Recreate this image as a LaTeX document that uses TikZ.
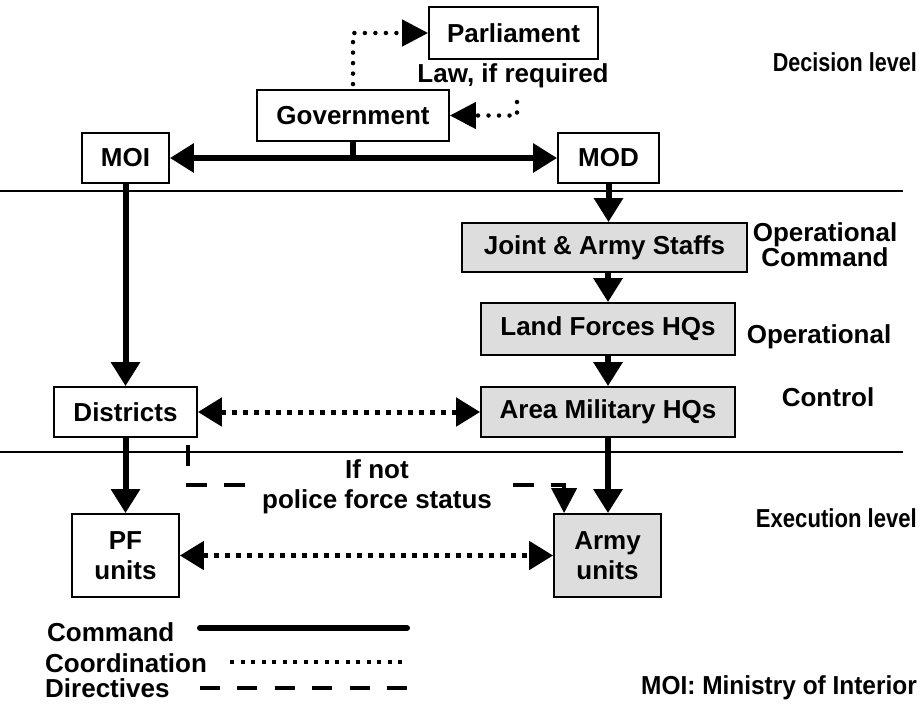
\documentclass[tikz,border=0pt]{standalone}
\usepackage{fontspec}
\setmainfont{Liberation Sans}
\usetikzlibrary{arrows.meta}
\definecolor{boxgray}{RGB}{221,221,221}
\tikzset{
  box/.style={draw,line width=1.8pt,inner sep=0pt,font=\fontsize{26}{30}\selectfont\bfseries,align=center},
  graybox/.style={box,fill=boxgray},
  lbl/.style={inner sep=0pt,font=\fontsize{26}{22}\selectfont\bfseries,align=center},
  cmd/.style={line width=6pt,-{Triangle[length=24pt,width=28pt]}},
  coordarrow/.style={line width=5pt,dash pattern=on 5pt off 6pt,{Triangle[length=24pt,width=28pt]}-{Triangle[length=24pt,width=28pt]}},
  dotline/.style={line width=4.5pt,line cap=round,dash pattern=on 0pt off 10.5pt,-{Triangle[length=26pt,width=26pt]}},
  directive/.style={line width=4pt,dash pattern=on 21pt off 17pt},
  sepline/.style={line width=1.8pt},
}
\begin{document}
\begin{tikzpicture}[x=1pt,y=-1pt]
\useasboundingbox[fill=white] (0,0) rectangle (920,710);

% separators
\draw[sepline] (0,191) -- (903,191);
\draw[sepline] (0,452) -- (903,452);

% nodes
\node[box,minimum width=169pt,minimum height=52pt] (parl) at (513.5,33) {Parliament};
\node[box,minimum width=192pt,minimum height=51pt] (gov) at (353,115.5) {Government};
\node[box,minimum width=87pt,minimum height=50pt] (moi) at (125.5,158) {MOI};
\node[box,minimum width=101pt,minimum height=50pt] (mod) at (608.5,158) {MOD};
\node[graybox,minimum width=285pt,minimum height=49pt] (joint) at (604.5,247.5) {Joint \& Army Staffs};
\node[graybox,minimum width=254pt,minimum height=52pt] (land) at (608,329) {Land Forces HQs};
\node[graybox,minimum width=254pt,minimum height=50pt] (area) at (608,412) {Area Military HQs};
\node[box,minimum width=143pt,minimum height=50pt] (dist) at (125.5,412) {Districts};
\node[box,minimum width=107pt,minimum height=83pt] (pf) at (125.5,555.5) {PF\\units};
\node[graybox,minimum width=107pt,minimum height=83pt] (army) at (607.5,555.5) {Army\\units};

% labels
\node[lbl] (law) at (513,76) {Law, if required};
\node[lbl,anchor=east] (declev) at (917,62) {\scalebox{0.83}[1]{Decision level}};
\node[lbl] (opcmd) at (825,245) {Operational\\Command};
\node[lbl] (opctl) at (819,337) {Operational};
\node[lbl] (ctl) at (828,397) {Control};
\node[lbl,anchor=east] (execlev) at (917,518) {\scalebox{0.85}[1]{Execution level}};
\node[lbl,anchor=east] (moidef) at (917,688) {\scalebox{0.94}[1]{MOI: Ministry of Interior}};

% command connectors
\draw[line width=6pt,{Triangle[length=24pt,width=28pt]}-{Triangle[length=24pt,width=28pt]}] (moi.east) -- (mod.west);
\draw[line width=6pt] (gov.south) -- (gov.south |- moi.east);
\draw[cmd] (moi.south) -- (dist.north);
\draw[cmd] (mod.south) -- (mod.south |- joint.north);
\draw[cmd] (joint.south -| land.north) -- (land.north);
\draw[cmd] (land.south) -- (area.north);
\draw[cmd] (area.south) -- (area.south |- army.north);
\draw[cmd] (dist.south) -- (pf.north);

% coordination
\draw[coordarrow] (dist.east) -- (area.west);
\draw[coordarrow] (pf.east) -- (army.west);

% government - parliament
\draw[dotline] ([yshift=5pt]gov.north) |- (parl.west);
\coordinate (lawend) at (517,102);
\draw[dotline] (lawend) |- (gov.east);

% directives
\coordinate (ds) at (188,445);
\coordinate (dm) at (245,485);
\coordinate (dr) at (513,485);
\draw[directive] (ds) |- (dm);
\draw[directive,-{Triangle[length=25pt,width=25pt]}] (dr) -| ([xshift=11pt]army.north west);
\node[lbl,font=\fontsize{26}{30}\selectfont\bfseries] (ifnot) at (377,487) {If not\\police force status};

% legend
\node[lbl,anchor=west] (lcmd) at (47,632) {Command};
\node[lbl,anchor=west] (lcoord) at (45,663) {Coordination};
\node[lbl,anchor=west] (ldir) at (45,688) {Directives};
\coordinate (c1) at (200,628); \coordinate (c2) at (407,628);
\coordinate (o1) at (230,662); \coordinate (o2) at (407,662);
\coordinate (r1) at (200,688); \coordinate (r2) at (407,688);
\draw[line width=6pt,line cap=round] (c1) -- (c2);
\draw[line width=4pt,dash pattern=on 4pt off 6.5pt] (o1) -- (o2);
\draw[line width=4pt,dash pattern=on 20pt off 17.4pt] (r1) -- (r2);
\end{tikzpicture}
\end{document}
